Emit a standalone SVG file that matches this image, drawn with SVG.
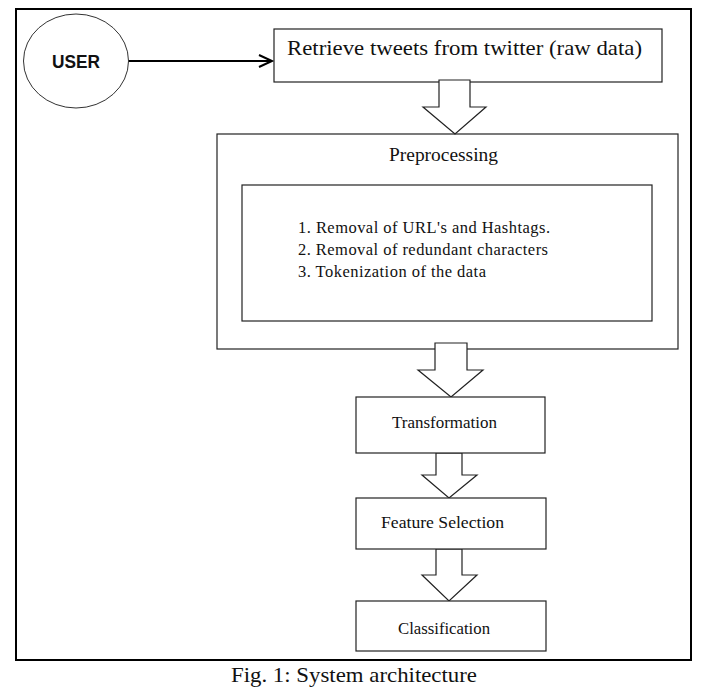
<svg xmlns="http://www.w3.org/2000/svg" width="718" height="692" viewBox="0 0 718 692">
<style>
.box{fill:#fff;stroke:#222;stroke-width:1.2}
.blk{fill:#fff;stroke:#222;stroke-width:1.2;stroke-linejoin:miter}
.t{font-family:"Liberation Serif","Times New Roman",serif;fill:#111}
.c{text-anchor:middle}
</style>
<rect width="718" height="692" fill="#fff"/>
<rect id="frame" x="16" y="9" width="675" height="651" fill="none" stroke="#000" stroke-width="2"/>
<g id="connectors">
<line x1="128" y1="61" x2="271" y2="61" stroke="#000" stroke-width="2"/>
<polyline points="259,55 272,61 259,67" fill="none" stroke="#000" stroke-width="2"/>
</g>
<g id="user">
<ellipse cx="76" cy="61" rx="52.5" ry="47" fill="#fff" stroke="#333" stroke-width="1"/>
<text x="76" y="68" text-anchor="middle" font-family="Liberation Sans,Arial,sans-serif" font-weight="bold" font-size="19" textLength="48" lengthAdjust="spacingAndGlyphs" fill="#111">USER</text>
</g>
<g id="retrieve">
<rect class="box" x="274" y="29" width="388" height="53"/>
<text class="t" x="287" y="55" font-size="21" textLength="355" lengthAdjust="spacingAndGlyphs">Retrieve tweets from twitter (raw data)</text>
</g>
<g id="preprocessing">
<rect class="box" x="217" y="134" width="461" height="215"/>
<text class="t" x="389" y="161" font-size="18" textLength="109" lengthAdjust="spacingAndGlyphs">Preprocessing</text>
<rect class="box" x="242" y="185" width="410" height="136"/>
<text class="t" font-size="16.5" lengthAdjust="spacingAndGlyphs"><tspan x="298" y="233" textLength="252">1. Removal of URL's and Hashtags.</tspan><tspan x="298" y="255" textLength="250">2. Removal of redundant characters</tspan><tspan x="298" y="277" textLength="188">3. Tokenization of the data</tspan></text>
</g>
<g id="block-arrows">
<polygon class="blk" points="439,80 470,80 470,107 486,107 455,134 423,107 439,107"/>
<polygon class="blk" points="435,343 467,343 467,370 483,370 451,397 418,370 435,370"/>
<polygon class="blk" points="436,453 462,453 462,475 477,475 449,498 422,475 436,475"/>
<polygon class="blk" points="436,549 462,549 462,575 477,575 449,601 422,575 436,575"/>
</g>
<g id="transformation">
<rect class="box" x="356" y="397" width="189" height="56"/>
<text class="t" x="392" y="428" font-size="17" textLength="105" lengthAdjust="spacingAndGlyphs">Transformation</text>
</g>
<g id="feature-selection">
<rect class="box" x="356" y="498" width="190" height="51"/>
<text class="t" x="381" y="528" font-size="17" textLength="123" lengthAdjust="spacingAndGlyphs">Feature Selection</text>
</g>
<g id="classification">
<rect class="box" x="356" y="601" width="190" height="50"/>
<text class="t" x="398" y="634" font-size="17" textLength="92" lengthAdjust="spacingAndGlyphs">Classification</text>
</g>
<text id="caption" class="t" x="231" y="682" font-size="21" textLength="246" lengthAdjust="spacingAndGlyphs">Fig. 1: System architecture</text>
</svg>
